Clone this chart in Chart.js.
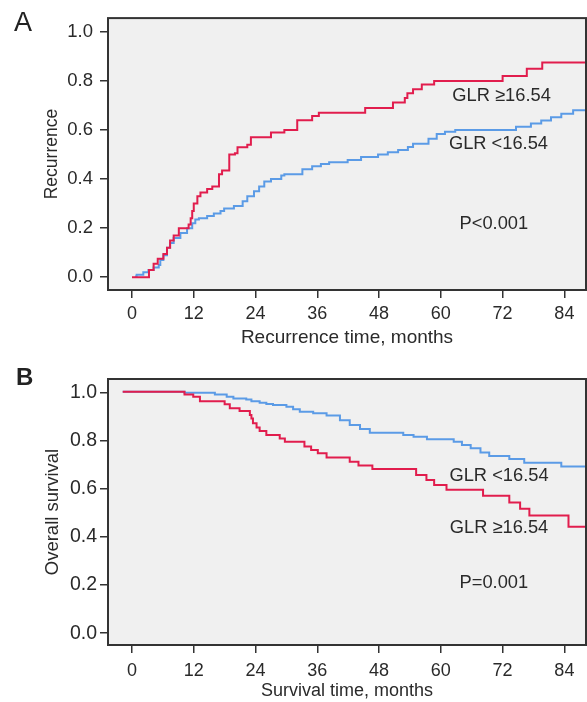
<!DOCTYPE html>
<html><head><meta charset="utf-8">
<script src="https://cdn.jsdelivr.net/npm/chart.js@4.4.0/dist/chart.umd.min.js"></script>
<style>
html,body{margin:0;padding:0;background:#fff;width:587px;height:702px;overflow:hidden;}
.wrap{position:absolute;left:0;width:587px;}
#wa{top:0;height:350px;}
#wb{top:350px;height:352px;}
.lab{position:absolute;font-family:"Liberation Sans",Arial,sans-serif;color:#222;line-height:normal;}
</style></head><body>
<div class="wrap" id="wa"><canvas id="ca" width="587" height="350"></canvas></div>
<div class="wrap" id="wb"><canvas id="cb" width="587" height="352"></canvas></div>
<div class="lab" style="left:14px;top:7px;font-size:27px;">A</div>
<div class="lab" style="left:16px;top:363px;font-size:24px;font-weight:bold;">B</div>
<script>
// ---- Data ----
const xTickValues = [0, 12, 24, 36, 48, 60, 72, 84];
const yTickValues = [0, 0.2, 0.4, 0.6, 0.8, 1.0];

// Panel A: Recurrence
const aHighT = [0, 3.3, 4.2, 5.0, 6.1, 6.8, 7.4, 8.1, 9.1, 11.0, 11.4, 11.7, 12.0, 12.7, 13.3, 14.6, 15.6, 16.9, 17.5, 18.9, 20.0, 20.5, 22.4, 23.1, 27.0, 29.6, 32.1, 35.0, 36.3, 45.3, 50.7, 53.0, 53.5, 54.6, 56.3, 58.7, 72.0, 76.7, 79.7, 88.3];
const aHighV = [0, 0.03, 0.055, 0.075, 0.095, 0.12, 0.15, 0.17, 0.2, 0.215, 0.24, 0.27, 0.3, 0.33, 0.345, 0.36, 0.37, 0.42, 0.435, 0.5, 0.505, 0.53, 0.54, 0.57, 0.59, 0.6, 0.64, 0.657, 0.67, 0.69, 0.712, 0.73, 0.75, 0.766, 0.785, 0.8, 0.82, 0.85, 0.875, 0.875];
const aLowT = [0.6, 0.9, 2.2, 3.2, 4.2, 5.2, 5.5, 6.1, 6.8, 7.4, 8.1, 9.4, 10.7, 11.7, 12.3, 13.0, 14.6, 15.9, 17.2, 17.9, 19.8, 21.5, 22.4, 23.7, 24.7, 25.7, 27.0, 29.0, 29.6, 33.1, 35.0, 36.7, 38.3, 41.9, 44.5, 47.8, 49.7, 51.7, 53.6, 54.6, 57.6, 59.2, 60.8, 62.8, 74.6, 77.5, 79.5, 81.4, 83.4, 85.7, 88.3];
const aLowV = [0.003, 0.01, 0.02, 0.03, 0.04, 0.05, 0.07, 0.09, 0.12, 0.14, 0.16, 0.18, 0.2, 0.22, 0.235, 0.24, 0.25, 0.26, 0.27, 0.28, 0.29, 0.31, 0.33, 0.35, 0.37, 0.39, 0.4, 0.415, 0.42, 0.44, 0.452, 0.461, 0.469, 0.478, 0.49, 0.5, 0.509, 0.518, 0.531, 0.544, 0.564, 0.584, 0.593, 0.6, 0.613, 0.626, 0.639, 0.652, 0.666, 0.68, 0.68];

// Panel B: Overall survival
const bHighT = [-1.8, 10.2, 11.9, 13.2, 18.0, 19.0, 20.9, 22.9, 23.2, 23.5, 24.2, 24.8, 26.1, 28.7, 29.7, 33.5, 34.8, 36.1, 37.8, 42.3, 44.0, 46.7, 55.2, 57.2, 58.7, 61.1, 68.2, 73.3, 75.4, 77.2, 84.8, 88.3];
const bHighV = [1.004, 0.993, 0.983, 0.965, 0.952, 0.935, 0.924, 0.907, 0.893, 0.873, 0.855, 0.841, 0.824, 0.81, 0.796, 0.776, 0.762, 0.748, 0.731, 0.713, 0.697, 0.683, 0.658, 0.637, 0.616, 0.596, 0.572, 0.544, 0.517, 0.489, 0.443, 0.443];
const bLowT = [-1.8, 10.2, 16.1, 18.4, 19.7, 22.2, 23.2, 24.8, 26.1, 27.4, 30.0, 31.3, 32.6, 35.2, 37.8, 40.4, 42.3, 44.3, 46.2, 52.7, 54.7, 57.3, 62.5, 64.1, 65.8, 67.7, 69.4, 73.3, 76.2, 83.4, 88.3];
const bLowV = [1.004, 1.0, 0.993, 0.983, 0.976, 0.972, 0.965, 0.958, 0.953, 0.949, 0.942, 0.931, 0.921, 0.915, 0.905, 0.886, 0.866, 0.849, 0.834, 0.824, 0.817, 0.806, 0.796, 0.783, 0.769, 0.751, 0.737, 0.724, 0.709, 0.693, 0.693];

const seriesNames = ['GLR \u226516.54', 'GLR <16.54'];
const aPText = 'P<0.001';
const bPText = 'P=0.001';
const aYTitle = 'Recurrence', aXTitle = 'Recurrence time, months';
const bYTitle = 'Overall survival', bXTitle = 'Survival time, months';

// ---- Styling ----
const RED = '#e11d4d', BLUE = '#5b9be6', INK = '#2a2a2a';
const FONT = '"Liberation Sans", Arial, sans-serif';

function pts(T, V) { return T.map((t, i) => ({x: t, y: V[i]})); }

const framePlugin = {
  id: 'frame',
  beforeDraw(chart) {
    const {ctx, chartArea: a} = chart;
    ctx.save();
    ctx.fillStyle = '#f0f0f0';
    ctx.fillRect(a.left, a.top, a.right - a.left, a.bottom - a.top);
    ctx.restore();
  },
  afterDraw(chart) {
    const {ctx, chartArea: a} = chart;
    ctx.save();
    ctx.strokeStyle = '#333';
    ctx.lineWidth = 2;
    ctx.strokeRect(a.left, a.top, a.right - a.left, a.bottom - a.top);
    const notes = chart.options.plugins.frame.notes || [];
    ctx.fillStyle = INK;
    ctx.font = '18.3px ' + FONT;
    ctx.textAlign = 'center';
    ctx.textBaseline = 'middle';
    const xs = chart.scales.x, ys = chart.scales.y;
    notes.forEach(n => ctx.fillText(n.text, xs.getPixelForValue(n.x), ys.getPixelForValue(n.y)));
    ctx.restore();
  }
};

function makeChart(id, cfg) {
  return new Chart(document.getElementById(id), {
    type: 'line',
    data: {
      datasets: [
        {data: pts(cfg.highT, cfg.highV), borderColor: RED, borderWidth: 2, stepped: 'before', pointRadius: 0, fill: false},
        {data: pts(cfg.lowT, cfg.lowV), borderColor: BLUE, borderWidth: 2, stepped: 'before', pointRadius: 0, fill: false}
      ]
    },
    options: {
      responsive: false,
      animation: false,
      devicePixelRatio: 1,
      layout: {padding: {top: cfg.padTop, right: 1, left: 0, bottom: 0}},
      plugins: {legend: {display: false}, tooltip: {enabled: false}, frame: {notes: cfg.notes}},
      scales: {
        x: {
          type: 'linear', min: -4.66, max: 88.2,
          afterBuildTicks: s => { s.ticks = xTickValues.map(v => ({value: v})); },
          afterFit: s => { s.height = cfg.xAxisH; },
          grid: {display: true, drawOnChartArea: false, drawTicks: true, tickLength: 8, color: '#333', lineWidth: 1.5},
          border: {display: false},
          ticks: {color: INK, font: {family: FONT, size: 18}, padding: cfg.xTickPad, maxRotation: 0, autoSkip: false},
          title: {display: true, text: cfg.xTitle, color: INK, font: {family: FONT, size: cfg.xTitleSize}, padding: {top: 0, bottom: cfg.xTitlePad}}
        },
        y: {
          type: 'linear', min: cfg.yMin, max: cfg.yMax,
          afterBuildTicks: s => { s.ticks = yTickValues.map(v => ({value: v})); },
          afterFit: s => { s.width = 108; },
          grid: {display: true, drawOnChartArea: false, drawTicks: true, tickLength: 8, color: '#333', lineWidth: 1.5},
          border: {display: false},
          ticks: {color: INK, font: {family: FONT, size: cfg.yTickSize}, padding: cfg.yTickPad, callback: v => Number(v).toFixed(1)},
          title: {display: true, text: cfg.yTitle, color: INK, font: {family: FONT, size: cfg.yTitleSize}, padding: {top: 42, bottom: 0}}
        }
      }
    },
    plugins: [framePlugin]
  });
}

makeChart('ca', {
  highT: aHighT, highV: aHighV, lowT: aLowT, lowV: aLowV,
  padTop: 11, xAxisH: 60, yMin: -0.052, yMax: 1.056,
  xTickPad: 5, yTickPad: 7, xTitlePad: 1,
  xTitleSize: 19, yTitleSize: 17.5, yTickSize: 18.5,
  xTitle: aXTitle, yTitle: aYTitle,
  notes: [
    {text: seriesNames[0], x: 71.8, y: 0.738},
    {text: seriesNames[1], x: 71.2, y: 0.544},
    {text: aPText, x: 70.3, y: 0.218}
  ]
});

makeChart('cb', {
  highT: bHighT, highV: bHighV, lowT: bLowT, lowV: bLowV,
  padTop: 29, xAxisH: 57, yMin: -0.049, yMax: 1.057,
  xTickPad: 7, yTickPad: 3, xTitlePad: 0,
  xTitleSize: 18, yTitleSize: 18.5, yTickSize: 19.5,
  xTitle: bXTitle, yTitle: bYTitle,
  notes: [
    {text: seriesNames[1], x: 71.3, y: 0.654},
    {text: seriesNames[0], x: 71.3, y: 0.438},
    {text: bPText, x: 70.3, y: 0.21}
  ]
});
</script>
</body></html>
